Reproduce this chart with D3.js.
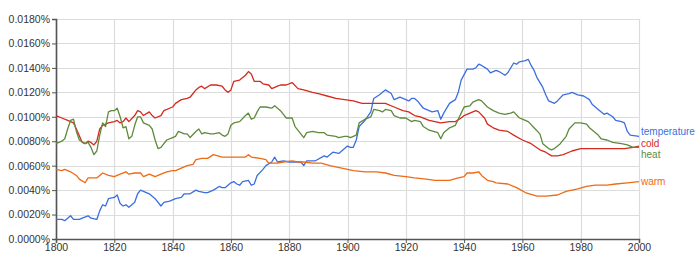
<!DOCTYPE html>
<html>
<head>
<meta charset="utf-8">
<script src="https://cdn.jsdelivr.net/npm/d3@7"></script>
<style>
  body { margin: 0; background: #fff; }
  text { font-family: Arial, "Liberation Sans", sans-serif; }
</style>
</head>
<body>
<div id="chart"></div>
<script>
// values, in percent
var temperature = [
  [1800,.0016],[1802,.0016],[1803,.0015],[1805,.0019],[1806,.0016],[1808,.0016],[1809,.0017],[1811,.0019],
  [1812,.0017],[1814,.0016],[1815,.0023],[1816,.0028],[1817,.0027],[1818,.0033],[1820,.0034],[1821,.0036],
  [1822,.0029],[1823,.0027],[1824,.0028],[1825,.0026],[1827,.0030],[1828,.0037],[1829,.0040],[1830,.0039],
  [1832,.0037],[1834,.0033],[1836,.0027],[1837,.0030],[1839,.0031],[1841,.0033],[1843,.0034],[1844,.0037],
  [1846,.0037],[1848,.0040],[1849,.0039],[1851,.0038],[1852,.0038],[1854,.0040],[1856,.0043],[1857,.0042],
  [1858,.0042],[1860,.0046],[1861,.0047],[1862,.0045],[1863,.0044],[1864,.0047],[1866,.0048],[1867,.0044],
  [1868,.0045],[1869,.0052],[1871,.0057],[1872,.0060],[1874,.0063],[1875,.0067],[1876,.0063],[1878,.0064],
  [1880,.0063],[1881,.0063],[1884,.0063],[1885,.0060],[1886,.0064],[1889,.0064],[1892,.0068],[1893,.0067],
  [1895,.0071],[1897,.0070],[1898,.0072],[1900,.0076],[1901,.0075],[1902,.0075],[1903,.0081],[1904,.0092],
  [1906,.0097],[1908,.0104],[1909,.0115],[1911,.0118],[1912,.0120],[1913,.0122],[1915,.0119],[1916,.0114],
  [1918,.0116],[1919,.0115],[1921,.0113],[1922,.0115],[1923,.0115],[1924,.0113],[1926,.0107],[1928,.0105],
  [1929,.0104],[1931,.0105],[1932,.0098],[1933,.0103],[1935,.0111],[1937,.0114],[1938,.0120],[1939,.0130],
  [1941,.0139],[1943,.0139],[1944,.0140],[1945,.0143],[1946,.0142],[1948,.0139],[1949,.0136],[1951,.0138],
  [1952,.0137],[1954,.0134],[1955,.0136],[1957,.0144],[1958,.0143],[1959,.0145],[1961,.0146],[1962,.0147],
  [1963,.0142],[1964,.0138],[1965,.0132],[1967,.0124],[1968,.0118],[1969,.0113],[1971,.0111],[1972,.0113],
  [1974,.0118],[1976,.0119],[1977,.0120],[1979,.0118],[1981,.0117],[1983,.0114],[1984,.0110],[1986,.0106],
  [1988,.0102],[1989,.0103],[1991,.0100],[1992,.0097],[1994,.0096],[1995,.0095],[1996,.0088],[1997,.0085],
  [2000,.0084]
];

var cold = [
  [1800,.0101],[1802,.0099],[1804,.0097],[1805,.0096],[1806,.0095],[1807,.0090],[1809,.0079],[1810,.0078],
  [1811,.0080],[1812,.0079],[1813,.0077],[1814,.0080],[1815,.0090],[1816,.0093],[1817,.0094],[1818,.0095],
  [1820,.0096],[1821,.0097],[1822,.0095],[1823,.0096],[1824,.0099],[1825,.0096],[1827,.0101],[1828,.0105],
  [1829,.0104],[1830,.0101],[1832,.0104],[1833,.0101],[1834,.0099],[1836,.0101],[1837,.0105],[1840,.0108],
  [1841,.0111],[1843,.0114],[1845,.0115],[1846,.0116],[1848,.0122],[1849,.0124],[1850,.0125],[1851,.0123],
  [1853,.0126],[1855,.0126],[1857,.0125],[1858,.0122],[1859,.0120],[1860,.0122],[1861,.0129],[1863,.0130],
  [1865,.0134],[1866,.0137],[1867,.0135],[1868,.0129],[1870,.0129],[1871,.0127],[1873,.0126],[1874,.0123],
  [1876,.0125],[1877,.0126],[1879,.0126],[1881,.0128],[1883,.0123],[1885,.0122],[1888,.0120],[1890,.0119],
  [1893,.0117],[1896,.0115],[1899,.0114],[1902,.0113],[1905,.0111],[1908,.0111],[1911,.0111],[1913,.0111],
  [1916,.0108],[1919,.0105],[1921,.0104],[1923,.0101],[1925,.0100],[1928,.0097],[1930,.0096],[1932,.0095],
  [1935,.0096],[1937,.0096],[1939,.0099],[1940,.0101],[1942,.0103],[1944,.0105],[1945,.0104],[1947,.0099],
  [1948,.0094],[1950,.0091],[1952,.0089],[1955,.0088],[1957,.0085],[1960,.0081],[1963,.0078],[1966,.0073],
  [1968,.0071],[1970,.0068],[1972,.0068],[1974,.0069],[1977,.0072],[1980,.0074],[1983,.0074],[1989,.0074],
  [1995,.0074],[1998,.0075],[2000,.0076]
];

var heat = [
  [1800,.0078],[1802,.0080],[1803,.0082],[1804,.0090],[1805,.0097],[1806,.0098],[1807,.0088],[1808,.0081],
  [1810,.0078],[1811,.0079],[1812,.0075],[1813,.0069],[1814,.0072],[1815,.0085],[1816,.0095],[1817,.0092],
  [1818,.0104],[1819,.0105],[1820,.0105],[1821,.0107],[1822,.0100],[1823,.0091],[1824,.0092],[1825,.0082],
  [1826,.0084],[1827,.0093],[1828,.0100],[1829,.0100],[1830,.0095],[1832,.0093],[1833,.0090],[1834,.0081],
  [1835,.0074],[1836,.0075],[1838,.0081],[1840,.0083],[1841,.0084],[1842,.0088],[1844,.0086],[1845,.0086],
  [1846,.0083],[1848,.0088],[1849,.0090],[1850,.0086],[1851,.0087],[1853,.0086],[1854,.0086],[1856,.0087],
  [1857,.0085],[1858,.0084],[1859,.0086],[1860,.0093],[1861,.0095],[1863,.0096],[1865,.0101],[1866,.0103],
  [1867,.0098],[1868,.0099],[1869,.0104],[1870,.0108],[1872,.0108],[1874,.0107],[1875,.0109],[1877,.0105],
  [1878,.0102],[1879,.0099],[1881,.0099],[1882,.0092],[1885,.0083],[1886,.0087],[1888,.0088],[1890,.0087],
  [1892,.0087],[1893,.0085],[1896,.0084],[1897,.0083],[1899,.0084],[1900,.0084],[1901,.0083],[1903,.0085],
  [1904,.0095],[1906,.0098],[1908,.0100],[1909,.0106],[1911,.0105],[1912,.0104],[1913,.0106],[1915,.0105],
  [1916,.0101],[1918,.0099],[1920,.0099],[1922,.0096],[1923,.0097],[1925,.0096],[1926,.0092],[1928,.0089],
  [1931,.0087],[1932,.0082],[1933,.0087],[1935,.0091],[1937,.0093],[1939,.0103],[1940,.0108],[1942,.0109],
  [1943,.0112],[1945,.0114],[1946,.0113],[1948,.0108],[1950,.0105],[1952,.0103],[1954,.0102],[1956,.0103],
  [1957,.0104],[1959,.0099],[1960,.0098],[1962,.0096],[1964,.0091],[1966,.0086],[1967,.0078],[1969,.0074],
  [1970,.0073],[1971,.0074],[1973,.0078],[1975,.0084],[1976,.0090],[1978,.0095],[1980,.0095],[1982,.0094],
  [1983,.0091],[1986,.0085],[1987,.0082],[1989,.0081],[1991,.0079],[1994,.0078],[1996,.0077],[1998,.0075],
  [2000,.0075]
];

var warm = [
  [1800,.0057],[1802,.0056],[1803,.0057],[1805,.0055],[1807,.0052],[1808,.0049],[1810,.0046],[1811,.0050],
  [1814,.0050],[1816,.0054],[1818,.0052],[1820,.0051],[1822,.0053],[1824,.0055],[1825,.0053],[1827,.0054],
  [1829,.0054],[1830,.0051],[1832,.0053],[1834,.0051],[1836,.0053],[1838,.0055],[1840,.0056],[1841,.0056],
  [1843,.0058],[1845,.0060],[1847,.0061],[1848,.0065],[1850,.0066],[1852,.0066],[1854,.0069],[1857,.0067],
  [1860,.0067],[1865,.0067],[1866,.0069],[1867,.0067],[1870,.0066],[1872,.0065],[1873,.0062],[1876,.0062],
  [1878,.0063],[1881,.0064],[1883,.0063],[1885,.0063],[1888,.0062],[1891,.0062],[1894,.0060],[1898,.0058],
  [1902,.0056],[1906,.0055],[1910,.0055],[1913,.0054],[1916,.0052],[1920,.0051],[1923,.0050],[1927,.0049],
  [1930,.0048],[1932,.0048],[1935,.0048],[1938,.0050],[1940,.0051],[1941,.0054],[1943,.0054],[1945,.0055],
  [1946,.0052],[1948,.0048],[1950,.0047],[1951,.0046],[1955,.0045],[1958,.0042],[1961,.0038],[1965,.0035],
  [1968,.0035],[1972,.0036],[1975,.0039],[1979,.0041],[1982,.0043],[1985,.0044],[1989,.0044],[1992,.0045],
  [1996,.0046],[2000,.0047]
];

var seriesNames = ["temperature", "cold", "heat", "warm"];
var seriesColors = ["#3b6fe0", "#d42a1f", "#5f8a3c", "#ee6a14"];
var yTicks = [0, .002, .004, .006, .008, .010, .012, .014, .016, .018];
var xTicks = [1800, 1820, 1840, 1860, 1880, 1900, 1920, 1940, 1960, 1980, 2000];

var series = [temperature, cold, heat, warm];

var margin = {top: 19, right: 61, bottom: 19, left: 56},
  w = 700 - margin.left - margin.right,
  h = 258 - margin.top - margin.bottom;

var svg = d3.select("#chart").append("svg")
  .attr("width", 700)
  .attr("height", 258);

var g = svg.append("g")
  .attr("transform", "translate(" + margin.left + "," + margin.top + ")");

var x = d3.scaleLinear().domain([1800, 2000]).range([0, w]);
var y = d3.scaleLinear().domain([0, .018]).range([h, 0]);

// grid
g.selectAll(".hgrid").data(yTicks).enter().append("line")
  .attr("x1", 0).attr("x2", w)
  .attr("y1", function(d) { return Math.round(y(d)) + 0.5; })
  .attr("y2", function(d) { return Math.round(y(d)) + 0.5; })
  .attr("stroke", "#dcdcdc").attr("stroke-width", 1.2);

g.selectAll(".vgrid").data(xTicks).enter().append("line")
  .attr("y1", 0).attr("y2", h)
  .attr("x1", function(d) { return Math.round(x(d)) + 0.5; })
  .attr("x2", function(d) { return Math.round(x(d)) + 0.5; })
  .attr("stroke", "#dcdcdc").attr("stroke-width", 1.2);

// axes
var yAxis = d3.axisLeft(y).tickValues(yTicks).tickSize(4).tickPadding(2)
  .tickFormat(function(d) { return d3.format(".4f")(d) + "%"; });
var xAxis = d3.axisBottom(x).tickValues(xTicks).tickSize(4).tickPadding(1)
  .tickFormat(d3.format("d"));

var ya = g.append("g").call(yAxis);
var xa = g.append("g").attr("transform", "translate(0," + h + ")").call(xAxis);

[ya, xa].forEach(function(a) {
  a.select(".domain").attr("stroke", "#555").attr("stroke-width", 1.6);
  a.selectAll(".tick line").attr("stroke", "#555");
  a.selectAll("text").attr("fill", "#333").attr("font-size", "10.5px")
    .attr("font-family", "Arial, 'Liberation Sans', sans-serif");
});

// lines
var line = d3.line()
  .x(function(d) { return x(d[0]); })
  .y(function(d) { return y(d[1]); });

series.forEach(function(s, i) {
  g.append("path")
    .datum(s)
    .attr("fill", "none")
    .attr("stroke", seriesColors[i])
    .attr("stroke-width", 1.3)
    .attr("stroke-linejoin", "round")
    .attr("d", line);
});

// end labels, pushed apart when they crowd
var labels = series.map(function(s, i) {
  return {name: seriesNames[i], color: seriesColors[i], y: y(s[s.length - 1][1])};
}).sort(function(a, b) { return a.y - b.y; });

var gap = 11.5;
for (var iter = 0; iter < 30; iter++) {
  var moved = false;
  for (var k = 1; k < labels.length; k++) {
    var d = labels[k].y - labels[k - 1].y;
    if (d < gap) {
      var shift = (gap - d) / 2;
      labels[k].y += shift;
      labels[k - 1].y -= shift;
      moved = true;
    }
  }
  if (!moved) break;
}

g.selectAll(".lbl").data(labels).enter().append("text")
  .attr("x", w + 2)
  .attr("y", function(d) { return d.y; })
  .attr("dy", "0.35em")
  .attr("font-size", "10px")
  .attr("fill", function(d) { return d.color; })
  .text(function(d) { return d.name; });
</script>
</body>
</html>
